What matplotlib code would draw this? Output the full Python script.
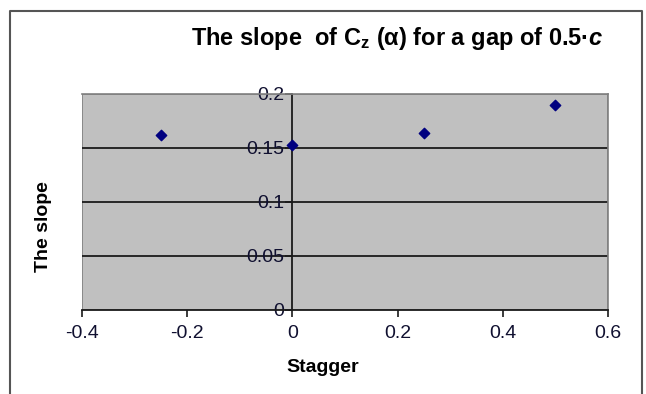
import matplotlib
matplotlib.use("Agg")
import matplotlib.pyplot as plt
from matplotlib.patches import Rectangle

plt.rcParams['font.family'] = ['Liberation Sans', 'DejaVu Sans']
plt.rcParams['mathtext.fontset'] = 'custom'
plt.rcParams['mathtext.rm'] = 'Liberation Sans:bold'
plt.rcParams['mathtext.bf'] = 'Liberation Sans:bold'
plt.rcParams['mathtext.it'] = 'Liberation Sans:italic:bold'

# slope of Cz(alpha) against stagger, gap = 0.5c
stagger = [-0.25, 0.0, 0.25, 0.5]
slope = [0.162, 0.153, 0.164, 0.190]

x_ticks = [-0.4, -0.2, 0, 0.2, 0.4, 0.6]
y_ticks = [0, 0.05, 0.1, 0.15, 0.2]

W, H = 646, 394
fig = plt.figure(figsize=(W / 100, H / 100), dpi=100)

# outer chart frame (open at the bottom)
fig.add_artist(plt.Line2D([10 / W, 10 / W, 642 / W, 642 / W],
                          [0, 1 - 11 / H, 1 - 11 / H, 0],
                          color='#555555', lw=1.5))

ax = fig.add_axes([82 / W, (H - 310) / H, 526 / W, 216 / H])
ax.set_facecolor('#C0C0C0')
ax.set_xlim(-0.4, 0.6)
ax.set_ylim(0, 0.2)

for g in [0.05, 0.1, 0.15]:
    ax.axhline(g, color='#1a1a1a', lw=1.3, zorder=1)

for s in ['top', 'right']:
    ax.spines[s].set_color('#808080')
    ax.spines[s].set_linewidth(1.2)
ax.spines['left'].set_position(('data', 0))
ax.spines['left'].set_color('#1a1a1a')
ax.spines['left'].set_linewidth(1.3)
ax.spines['bottom'].set_color('#1a1a1a')
ax.spines['bottom'].set_linewidth(1.3)
ax.add_patch(Rectangle((0, 0), 1, 1, transform=ax.transAxes, fill=False,
                       edgecolor='#808080', lw=1.2, zorder=0.5))

ax.set_xticks(x_ticks)
ax.set_xticklabels(['-0.4', '-0.2', '0', '0.2', '0.4', '0.6'])
ax.set_yticks(y_ticks)
ax.set_yticklabels(['0', '0.05', '0.1', '0.15', '0.2'])
ax.tick_params(axis='both', direction='out', length=5, width=1.2,
               color='#1a1a1a', labelsize=14, labelcolor='#101030', pad=1)
ax.tick_params(axis='x', pad=6)

ax.scatter(stagger, slope, marker='D', s=28, color='#000080', zorder=5,
           clip_on=False)

fig.text(397 / W, 1 - 38 / H,
         r'The slope  of C$_\mathrm{z}$ (α) for a gap of 0.5·$\mathit{c}$',
         ha='center', va='center', fontsize=17, fontweight='bold')
fig.text(44 / W, 1 - 227 / H, 'The slope', rotation=90, ha='center',
         va='center', fontsize=14, fontweight='bold')
fig.text(323 / W, 1 - 368 / H, 'Stagger', ha='center', va='center',
         fontsize=14, fontweight='bold')

fig.savefig('out.png', dpi=100)
